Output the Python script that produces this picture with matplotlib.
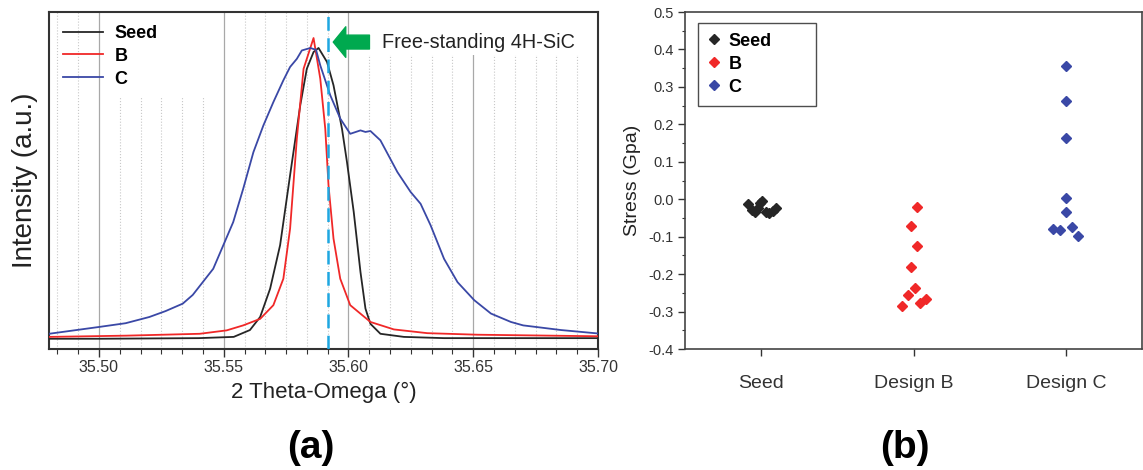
import matplotlib.pyplot as plt
import numpy as np
from matplotlib.patches import Rectangle
from matplotlib.ticker import MultipleLocator, AutoMinorLocator

plt.rcParams['font.family'] = ['Liberation Sans', 'DejaVu Sans']
plt.rcParams['axes.unicode_minus'] = False

# (a) 2theta-omega scans, intensity scaled so the B peak is 1
seed_x = [35.480, 35.500, 35.540, 35.554, 35.5605, 35.5646, 35.5686, 35.5726,
          35.5766, 35.5807, 35.5833, 35.5860, 35.5880, 35.5914, 35.5940, 35.5974,
          35.5994, 35.6021, 35.6048, 35.6068, 35.6088, 35.6128, 35.6222, 35.6383, 35.700]
seed_y = [0.033, 0.033, 0.035, 0.039, 0.061, 0.103, 0.194, 0.334,
          0.559, 0.785, 0.901, 0.955, 0.968, 0.923, 0.848, 0.708,
          0.601, 0.441, 0.248, 0.130, 0.081, 0.049, 0.039, 0.035, 0.035]

b_x = [35.480, 35.511, 35.5404, 35.5512, 35.5578, 35.5646, 35.5699, 35.5739, 35.5766,
       35.5793, 35.5820, 35.5860, 35.5887, 35.5907, 35.5920, 35.5940, 35.5967,
       35.6007, 35.6088, 35.6182, 35.6316, 35.6517, 35.700]
b_y = [0.039, 0.043, 0.049, 0.060, 0.076, 0.097, 0.141, 0.226, 0.387,
       0.676, 0.901, 1.000, 0.869, 0.708, 0.526, 0.355, 0.226,
       0.141, 0.087, 0.063, 0.051, 0.046, 0.041]

c_x = [35.480, 35.5001, 35.5107, 35.5202, 35.5267, 35.5336, 35.5376, 35.5416, 35.5458,
       35.5498, 35.5538, 35.5578, 35.5619, 35.5659, 35.5699, 35.5739, 35.5766,
       35.5793, 35.5813, 35.5847, 35.5870, 35.5887, 35.5927, 35.5967, 35.6007,
       35.6048, 35.6068, 35.6088, 35.6128, 35.6196, 35.6249, 35.6289, 35.6329,
       35.6383, 35.6437, 35.6504, 35.6571, 35.6651, 35.6700, 35.6852, 35.700]
c_y = [0.049, 0.071, 0.083, 0.103, 0.122, 0.146, 0.174, 0.215, 0.258,
       0.333, 0.408, 0.515, 0.633, 0.719, 0.794, 0.864, 0.907,
       0.933, 0.960, 0.968, 0.962, 0.912, 0.816, 0.741, 0.692,
       0.703, 0.698, 0.701, 0.671, 0.569, 0.505, 0.467, 0.398,
       0.290, 0.215, 0.157, 0.114, 0.087, 0.076, 0.061, 0.050]

free_standing_pos = 35.5916
arrow_tip = (35.5939, 0.987)
arrow_tail = (35.6084, 0.987)

# (b) stress values, with the small horizontal spread of the original
groups = ["Seed", "Design B", "Design C"]
seed_jitter = [-0.085, -0.059, -0.041, -0.020, -0.009, 0.007, 0.029, 0.050, 0.075, 0.096]
seed_stress = [-0.014, -0.029, -0.035, -0.024, -0.009, -0.005, -0.033, -0.036, -0.031, -0.024]
b_jitter = [0.022, -0.018, 0.022, -0.018, 0.007, -0.037, -0.077, 0.044, 0.083]
b_stress = [-0.020, -0.071, -0.124, -0.181, -0.237, -0.257, -0.284, -0.276, -0.266]
c_jitter = [0.0, 0.0, 0.0, 0.0, 0.0, -0.082, -0.041, 0.042, 0.079]
c_stress = [0.356, 0.263, 0.163, 0.002, -0.035, -0.079, -0.082, -0.073, -0.097]

black = '#262626'
red = '#f02828'
blue = '#3a48a6'

fig = plt.figure(figsize=(11.43, 4.70), dpi=100)
ax1 = fig.add_axes([0.0429, 0.2574, 0.4803, 0.717])
ax2 = fig.add_axes([0.5995, 0.2574, 0.3996, 0.717])

# ---- panel (a)
ax1.plot(seed_x, seed_y, color=black, lw=1.3, label='Seed', zorder=3)
ax1.plot(b_x, b_y, color=red, lw=1.3, label='B', zorder=3)
ax1.plot(c_x, c_y, color=blue, lw=1.3, label='C', zorder=3)
ax1.axvline(free_standing_pos, color='#1ea7e1', lw=1.8, ls=(0, (5.5, 3.0)), zorder=4)

ax1.set_xlim(35.48, 35.70)
ax1.set_ylim(0, 1.0836)
ax1.xaxis.set_major_locator(MultipleLocator(0.05))
ax1.xaxis.set_minor_locator(AutoMinorLocator(6))
ax1.xaxis.set_major_formatter(plt.FormatStrFormatter('%.2f'))
ax1.set_yticks([])
ax1.grid(True, which='major', axis='x', color='#a8a8a8', lw=0.9)
ax1.grid(True, which='minor', axis='x', color='#c8c8c8', lw=0.8, ls=':')
ax1.tick_params(axis='x', which='major', direction='out', length=6, width=1.0,
                labelsize=11.5, pad=2, colors='#333333')
ax1.tick_params(axis='x', which='minor', direction='out', length=3.5, width=0.8, colors='#333333')
for s in ax1.spines.values():
    s.set_color('#333333')
    s.set_linewidth(1.5)

# white patches behind the legend text and the annotation
ax1.add_patch(Rectangle((0.111, 0.748), 0.182, 0.252, transform=ax1.transAxes,
                        facecolor='white', edgecolor='none', zorder=1.8))
ax1.add_patch(Rectangle((0.5756, 0.872), 0.4244, 0.128, transform=ax1.transAxes,
                        facecolor='white', edgecolor='none', zorder=1.8))

leg1 = ax1.legend(loc='upper left', bbox_to_anchor=(0.0255, 0.962), frameon=False,
                  borderaxespad=0, borderpad=0, handlelength=2.2, handletextpad=0.66,
                  labelspacing=0.33, prop={'weight': 'bold', 'size': 13})

ax1.annotate('', xy=arrow_tip, xytext=arrow_tail,
             arrowprops=dict(arrowstyle='simple,head_length=0.45,head_width=1.1,tail_width=0.5',
                             color='#00a94f', shrinkA=0, shrinkB=0, mutation_scale=20),
             zorder=5)
ax1.text(35.6136, arrow_tip[1], 'Free-standing 4H-SiC', fontsize=14.3, va='center',
         ha='left', color='#222222', zorder=5)

ax1.set_xlabel('2 Theta-Omega (°)', fontsize=16, labelpad=5, color='#222222')
ax1.set_ylabel('Intensity (a.u.)', fontsize=20, labelpad=8, color='#222222')

# ---- panel (b)
pos = np.arange(1, len(groups) + 1)
ax2.plot(pos[0] + np.array(seed_jitter), seed_stress, 'D', color=black, ms=5,
         ls='none', label='Seed')
ax2.plot(pos[1] + np.array(b_jitter), b_stress, 'D', color=red, ms=5,
         ls='none', label='B')
ax2.plot(pos[2] + np.array(c_jitter), c_stress, 'D', color=blue, ms=5,
         ls='none', label='C')

ax2.set_xlim(0.5, 3.5)
ax2.set_ylim(-0.4, 0.5)
ax2.set_xticks(pos)
ax2.set_xticklabels(groups)
ax2.yaxis.set_major_locator(MultipleLocator(0.1))
ax2.yaxis.set_minor_locator(MultipleLocator(0.05))
ax2.yaxis.set_major_formatter(plt.FormatStrFormatter('%.1f'))
ax2.tick_params(axis='y', which='major', direction='out', length=5, width=1.0,
                labelsize=10.5, pad=3, colors='#333333')
ax2.tick_params(axis='y', which='minor', direction='out', length=2.5, width=0.8, colors='#333333')
ax2.tick_params(axis='x', which='major', direction='out', length=5, width=1.0,
                labelsize=14, pad=14, colors='#333333')
for s in ax2.spines.values():
    s.set_color('#444444')
    s.set_linewidth(1.2)
ax2.set_ylabel('Stress (Gpa)', fontsize=14, labelpad=6, color='#222222')

leg2 = ax2.legend(loc='upper left', bbox_to_anchor=(0.029, 0.724, 0.258, 0.244),
                  mode='expand', frameon=True, fancybox=False, borderaxespad=0,
                  handlelength=0.6, handletextpad=0.5, labelspacing=0.33, borderpad=0.55,
                  prop={'weight': 'bold', 'size': 13})
leg2.get_frame().set_edgecolor('#222222')
leg2.get_frame().set_linewidth(1.0)

fig.text(311 / 1143, 1 - 448 / 470, '(a)', fontsize=28, fontweight='bold',
         ha='center', va='center')
fig.text(905 / 1143, 1 - 448 / 470, '(b)', fontsize=28, fontweight='bold',
         ha='center', va='center')

plt.savefig('out.png', dpi=100)
